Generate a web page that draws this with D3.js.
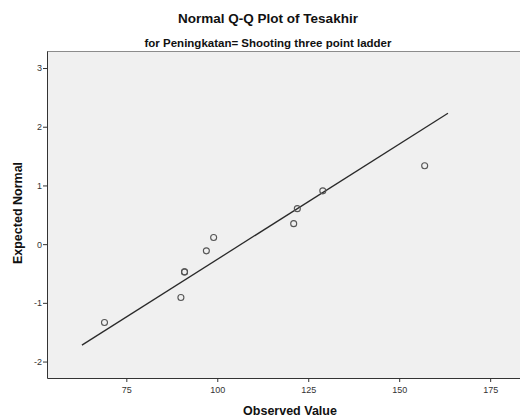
<!DOCTYPE html>
<html>
<head>
<meta charset="utf-8">
<script src="https://cdn.jsdelivr.net/npm/d3@7"></script>
<style>
body { margin: 0; background: #fff; }
text { font-family: "Liberation Sans", Arial, sans-serif; }
</style>
</head>
<body>
<div class="qq"></div>
<script>
var observed = [69, 90, 91, 91, 97, 99, 121, 122, 129, 157];
var expected = [-1.335, -0.908, -0.473, -0.473, -0.114, 0.114, 0.349, 0.605, 0.908, 1.335];
// reference line end points
var lineX = [62.8, 163.4];
var lineY = [-1.72, 2.23];
var xTicks = [75, 100, 125, 150, 175];
var yTicks = [-2, -1, 0, 1, 2, 3];

function qqPlot(){
	var width = 520, height = 419
	var svg = d3.select(".qq").append("svg").attr("width",width).attr("height",height)

	var left = 47, top = 51, right = 520, bottom = 378
	var x = d3.scaleLinear().domain([53.2, 183.2]).range([left, right])
	var y = d3.scaleLinear().domain([-2.28, 3.29]).range([bottom, top])
	var plain = function(d){return String(d)}

	// plot background
	svg.append("rect").attr("x",left).attr("y",top).attr("width",right-left).attr("height",bottom-top)
	.attr("fill","#f0f0f0")
	svg.append("line").attr("x1",left).attr("x2",right).attr("y1",top+0.5).attr("y2",top+0.5)
	.attr("stroke","#8c8c8c").attr("stroke-width",1)

	var xAxis = svg.append("g").attr("transform","translate(0,"+bottom+")")
	.call(d3.axisBottom(x).tickValues(xTicks).tickFormat(plain).tickSize(4).tickSizeOuter(0))
	var yAxis = svg.append("g").attr("transform","translate("+left+",0)")
	.call(d3.axisLeft(y).tickValues(yTicks).tickFormat(plain).tickSize(4).tickSizeOuter(0))
	;[xAxis, yAxis].forEach(function(a){
		a.select(".domain").attr("stroke","#333")
		a.selectAll(".tick line").attr("stroke","#333")
		a.selectAll(".tick text").attr("fill","#333").style("font-size","9px")
			.style("font-family","'Liberation Sans', Arial, sans-serif")
	})
	xAxis.selectAll(".tick text").attr("dy","0.9em")
	yAxis.selectAll(".tick text").attr("x",-5)

	// reference line
	svg.append("line")
	.attr("x1",x(lineX[0])).attr("y1",y(lineY[0]))
	.attr("x2",x(lineX[1])).attr("y2",y(lineY[1]))
	.attr("stroke","#2a2a2a").attr("stroke-width",1.3)

	svg.append("g").selectAll("circle").data(observed).enter()
	.append("circle")
	.attr("r",3)
	.attr("fill","none")
	.attr("stroke","#555")
	.attr("stroke-width",1.1)
	.attr("cx",function(d){return x(d)})
	.attr("cy",function(d,i){return y(expected[i])})

	svg.append("text").text("Normal Q-Q Plot of Tesakhir")
	.attr("x",268).attr("y",23).attr("text-anchor","middle")
	.style("font-size","13.5px").style("font-weight","bold").attr("fill","#111")
	svg.append("text").text("for Peningkatan= Shooting three point ladder")
	.attr("x",268).attr("y",47).attr("text-anchor","middle")
	.style("font-size","11.5px").style("font-weight","bold").attr("fill","#111")

	svg.append("text").text("Observed Value")
	.attr("x",290).attr("y",415).attr("text-anchor","middle")
	.style("font-size","12.5px").style("font-weight","bold").attr("fill","#111")
	svg.append("text").text("Expected Normal")
	.attr("transform","translate(22,213) rotate(-90)").attr("text-anchor","middle")
	.style("font-size","12.5px").style("font-weight","bold").attr("fill","#111")
}
qqPlot()
</script>
</body>
</html>
